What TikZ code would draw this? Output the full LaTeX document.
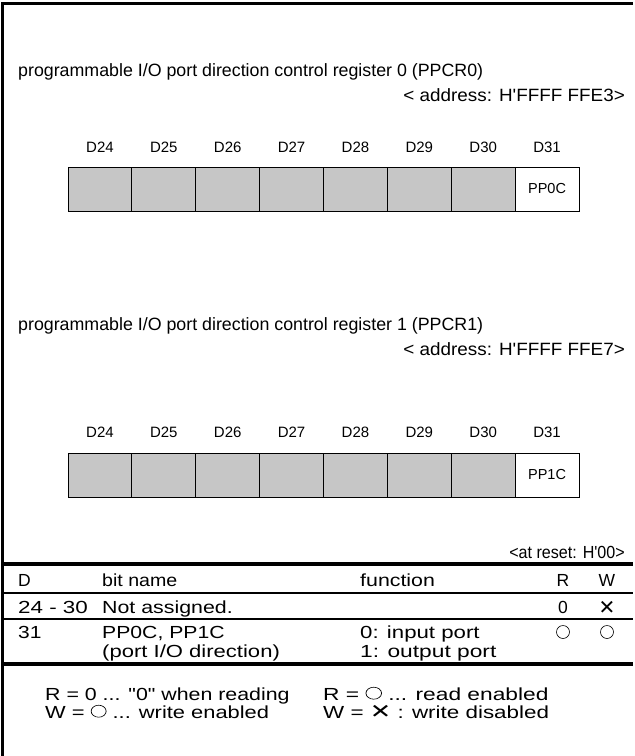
\documentclass[tikz,border=0pt]{standalone}
\usepackage{graphicx}
\usepackage{fontspec}
\setmainfont{Liberation Sans}
\newfontfamily\symfont{DejaVu Sans}
\newcommand{\hx}[2]{\scalebox{#1}[1]{#2}}
\newcommand{\ocirc}{\raisebox{0.5pt}{\tikz\draw[line width=0.6pt] (0,0) circle (6pt);}}
\newcommand{\xmark}{{\symfont\fontsize{20}{20}\selectfont ✕}}
\newcommand{\sq}{\textquotesingle}
\newcommand{\dq}{\textquotedbl}
\begin{document}
\begin{tikzpicture}[x=1pt,y=-1pt,
  txt/.style={inner sep=0pt,font=\fontsize{17.8}{20}\selectfont},
  tab/.style={inner sep=0pt,font=\fontsize{17.5}{20}\selectfont},
  lbl/.style={inner sep=0pt,font=\fontsize{15}{18}\selectfont},
  bitn/.style={inner sep=0pt,font=\fontsize{14.5}{17}\selectfont},
  cellg/.style={draw=black,fill=gray!45,line width=0.8pt},
  cellw/.style={draw=black,fill=white,line width=0.8pt},
  ocircle/.style={draw,circle,minimum size=13pt,inner sep=0pt,line width=0.6pt},
  thick rule/.style={line width=4pt},
  mid rule/.style={line width=1.8pt},
  thin rule/.style={line width=1.2pt}]
\useasboundingbox (0,0) rectangle (635,756);
% frame
\coordinate (fTL) at (2,3);
\coordinate (fBL) at (2,756);
\coordinate (fTR) at (633,3);
\draw[line width=3pt] (fBL) -- (fTL) -- (fTR);
% register 0
\node[txt,anchor=base west] (t0) at (18,76) {programmable I/O port direction control register 0 (PPCR0)};
\node[txt,anchor=base east] (a0) at (625,101) {\hx{1.06}{< address: H\sq FFFF FFE3>}};
\foreach \i/\d in {0/24,1/25,2/26,3/27,4/28,5/29,6/30,7/31}{
  \node[lbl,anchor=base] (da\i) at ({68+63.875*(\i+0.5)},152) {D\d};
}
\foreach \i in {0,...,6}{
  \path[cellg] ({68+63.875*\i},167) rectangle ({68+63.875*(\i+1)},211);
}
\path[cellw] ({68+63.875*7},167) rectangle (579,211);
\node[bitn,anchor=center] (b0) at ({68+63.875*7.5},189) {PP0C};
% register 1
\node[txt,anchor=base west] (t1) at (18,330) {programmable I/O port direction control register 1 (PPCR1)};
\node[txt,anchor=base east] (a1) at (625,355) {\hx{1.06}{< address: H\sq FFFF FFE7>}};
\foreach \i/\d in {0/24,1/25,2/26,3/27,4/28,5/29,6/30,7/31}{
  \node[lbl,anchor=base] (db\i) at ({68+63.875*(\i+0.5)},437) {D\d};
}
\foreach \i in {0,...,6}{
  \path[cellg] ({68+63.875*\i},453) rectangle ({68+63.875*(\i+1)},497);
}
\path[cellw] ({68+63.875*7},453) rectangle (579,497);
\node[bitn,anchor=center] (b1) at ({68+63.875*7.5},475) {PP1C};
% table
\node[tab,anchor=base east] (rst) at (625,558) {\hx{0.92}{<at reset: H\sq 00>}};
\coordinate (l1a) at (3,564); \coordinate (l1b) at (633,564);
\draw[thick rule] (l1a) -- (l1b);
\node[tab,anchor=base west] (hD) at (18,586) {D};
\node[tab,anchor=base west] (hB) at (102,586) {\hx{1.12}{bit name}};
\node[tab,anchor=base west] (hF) at (360,586) {\hx{1.22}{function}};
\node[tab,anchor=base] (hR) at (563,586) {R};
\node[tab,anchor=base] (hW) at (607,586) {W};
\coordinate (l2a) at (3,593); \coordinate (l2b) at (633,593);
\draw[mid rule] (l2a) -- (l2b);
\node[tab,anchor=base west] (r1D) at (18,613) {\hx{1.28}{24 - 30}};
\node[tab,anchor=base west] (r1B) at (102,613) {\hx{1.22}{Not assigned.}};
\node[tab,anchor=base] (r1R) at (563,613) {0};
\node[tab,anchor=base] (r1W) at (607,614) {\xmark};
\coordinate (l3a) at (3,619); \coordinate (l3b) at (633,619);
\draw[thin rule] (l3a) -- (l3b);
\node[tab,anchor=base west] (r2D) at (18,638) {\hx{1.2}{31}};
\node[tab,anchor=base west] (r2B) at (102,638) {\hx{1.21}{PP0C, PP1C}};
\node[tab,anchor=base west] (r2F) at (360,638) {\hx{1.27}{0: input port}};
\node[tab,anchor=base west] (r2B2) at (102,657) {\hx{1.26}{(port I/O direction)}};
\node[tab,anchor=base west] (r2F2) at (360,657) {\hx{1.3}{1: output port}};
\node[ocircle] (r2R) at (563,632) {};
\node[ocircle] (r2W) at (607,632) {};
\coordinate (l4a) at (3,664); \coordinate (l4b) at (633,664);
\draw[thick rule] (l4a) -- (l4b);
% legend
\node[tab,anchor=base west] (g1) at (45,700) {\hx{1.22}{R = 0 ... \dq 0\dq\ when reading}};
\node[tab,anchor=base west] (g2) at (45,718) {\hx{1.25}{W = \ocirc\ ... write enabled}};
\node[tab,anchor=base west] (g3) at (323,700) {\hx{1.3}{R = \ocirc\ ... read enabled}};
\node[tab,anchor=base west] (g4) at (323,718) {\hx{1.28}{W = \xmark\ : write disabled}};
\end{tikzpicture}
\end{document}
